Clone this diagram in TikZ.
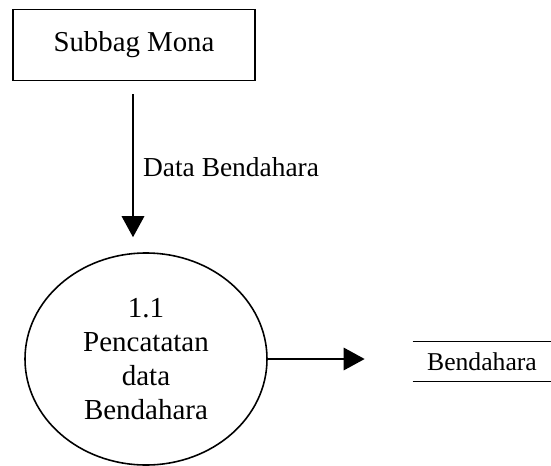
\documentclass[tikz,border=0pt]{standalone}
\usepackage{fontspec}
\setmainfont{Liberation Serif}
\usetikzlibrary{arrows.meta,positioning,shapes.geometric}

\tikzset{
	flow/.style={line width=0.9pt, -{Triangle[length=0.42cm,width=0.45cm]}},
	entitas/.style={draw, line width=0.9pt, minimum width=4.84cm, minimum height=1.42cm, font=\fontsize{16.4}{20}\selectfont},
	proses/.style={draw, ellipse, line width=0.9pt, minimum width=4.84cm, minimum height=4.24cm, align=center, font=\fontsize{16.5}{19.3}\selectfont},
	simpan/.style={minimum width=2.76cm, minimum height=0.78cm, font=\fontsize{14.6}{18}\selectfont}
}

\begin{document}
\begin{tikzpicture}
	\useasboundingbox (0,0) rectangle (11.02,-9.32);
	% Entitas luar
	\node[entitas] (mona) at (2.68,-0.9) {Subbag Mona};
	% Proses 1.1
	\node[proses] (catat) at (2.92,-7.18) {1.1\\Pencatatan\\data\\Bendahara};
	% Penyimpanan data
	\node[simpan] (bend) at (9.64,-7.23) {Bendahara};
	\draw[line width=0.9pt] (bend.north west) -- (bend.north east);
	\draw[line width=0.9pt] (bend.south west) -- (bend.south east);
	% Aliran data
	\draw[flow, shorten <=0.26cm, shorten >=0.3cm] ([xshift=-0.02cm]mona.south) -- ([xshift=-0.02cm]mona.south |- catat.north)
		node[midway, right=2pt, font=\fontsize{15.6}{18}\selectfont] {Data Bendahara};
	\draw[flow, shorten >=0.96cm] (catat.east) -- (catat.east -| bend.west);
\end{tikzpicture}
\end{document}
